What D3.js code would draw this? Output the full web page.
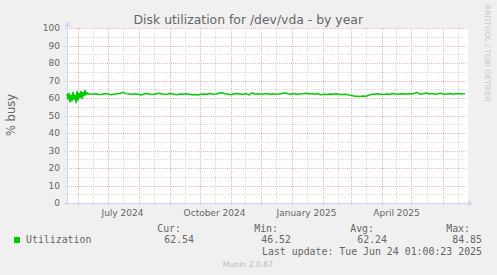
<!DOCTYPE html>
<html>
<head>
<meta charset="utf-8">
<script src="https://cdn.jsdelivr.net/npm/d3@7"></script>
<style>
  html, body { margin: 0; padding: 0; background: #f0f0f0; }
  svg { display: block; }
  text { font-family: "DejaVu Sans", sans-serif; fill: #666; }
  .mono { font-family: "DejaVu Sans Mono", monospace; }
</style>
</head>
<body>
<svg width="497" height="275"></svg>
<script>
// chart data
const title = "Disk utilization for /dev/vda - by year";
const yLabel = "% busy";
const timeRange = [new Date(2024, 4, 21, 12), new Date(2025, 5, 25, 12)];
const yTicks = [0, 10, 20, 30, 40, 50, 60, 70, 80, 90, 100];
const yMinorTicks = [5, 15, 25, 35, 45, 55, 65, 75, 85, 95];
const labelMonths = [new Date(2024, 6, 1), new Date(2024, 9, 1), new Date(2025, 0, 1), new Date(2025, 3, 1)];

// daily samples at the start (noisy part), then one sample every 3 days
const earlyStart = new Date(2024, 4, 21, 12);
const earlyValues = [62.5, 59, 63, 57.5, 62, 58, 63.5, 59, 62, 57, 64, 58.5, 63, 60, 64, 59.5, 63.5, 61, 64.5, 62, 63, 62.3];
const laterStart = new Date(2024, 5, 13, 12);
const laterValues = [
  62.3, 62.1, 62.4, 62.0, 62.2, 62.5, 62.3, 61.9, 62.2, 62.4,
  62.6, 63.2, 62.5, 62.3, 62.1, 62.4, 62.2, 61.8, 62.3, 62.5,
  62.2, 62.0, 62.4, 62.7, 62.3, 62.1, 62.3, 62.6, 62.2, 61.9,
  62.3, 62.1, 62.4, 62.2, 61.8, 62.0, 61.7, 62.1, 62.3, 62.2,
  62.5, 62.1, 62.3, 62.7, 63.0, 62.4, 62.2, 61.9, 62.4, 62.6,
  62.3, 62.0, 62.5, 61.8, 62.9, 62.2, 62.4, 62.1, 62.3, 62.5,
  62.2, 62.4, 62.1, 62.3, 62.6, 62.8, 62.4, 62.2, 62.5, 62.1,
  62.3, 62.4, 62.7, 62.3, 62.5, 62.2, 62.4, 61.9, 62.2, 62.0,
  62.3, 62.1, 62.4, 62.2, 62.0, 62.2, 61.8, 61.5, 61.2, 61.0,
  60.8, 61.1, 61.0, 61.6, 62.2, 62.1, 62.4, 62.2, 62.0, 62.3,
  62.2, 62.5, 62.1, 62.3, 62.4, 62.2, 62.4, 62.3, 62.6, 63.2,
  62.1, 62.4, 62.8, 62.3, 62.5, 62.2, 62.4, 62.7, 62.1, 62.3,
  62.5, 62.2, 62.4, 62.6, 62.3, 62.5
];

const seriesName = "Utilization";
const legendHeads = ["Cur:", "Min:", "Avg:", "Max:"];
const legendValues = ["62.54", "46.52", "62.24", "84.85"];
const lastUpdate = "Last update: Tue Jun 24 01:00:23 2025";
const footer = "Munin 2.0.67";
const sideText = "RRDTOOL / TOBI OETIKER";

const green = "#00cc00";
const axisColor = "#cfd6f8";
const majorGrid = "#f0b6b6";
const minorGrid = "#dadada";

const points = [
  ...earlyValues.map((v, i) => ({ t: d3.timeDay.offset(earlyStart, i), v })),
  ...laterValues.map((v, i) => ({ t: d3.timeDay.offset(laterStart, i * 3), v }))
];

const plotL = 67, plotR = 467, plotT = 28, plotB = 203;
const x = d3.scaleTime().domain(timeRange).range([plotL, plotR]);
const y = d3.scaleLinear().domain([0, 100]).range([plotB, plotT]);

const svg = d3.select("svg");
svg.append("rect").attr("width", 497).attr("height", 275).attr("fill", "#f0f0f0");
svg.append("rect").attr("x", plotL).attr("y", plotT).attr("width", plotR - plotL + 1).attr("height", plotB - plotT + 1).attr("fill", "#fff");

const months = d3.timeMonth.range(timeRange[0], timeRange[1]);
const midMonths = months.map(m => d3.timeDay.offset(m, 15)).filter(d => d < timeRange[1]);
const px = v => Math.round(v) + 0.5;

const grid = svg.append("g").attr("stroke-dasharray", "1,1").attr("shape-rendering", "crispEdges");
// minor grid
grid.selectAll(".hmin").data(yMinorTicks).join("line")
  .attr("x1", plotL - 2).attr("x2", plotR).attr("y1", d => px(y(d))).attr("y2", d => px(y(d)))
  .attr("stroke", minorGrid);
grid.selectAll(".vmin").data(midMonths).join("line")
  .attr("x1", d => px(x(d))).attr("x2", d => px(x(d))).attr("y1", plotT).attr("y2", plotB + 2)
  .attr("stroke", minorGrid);
// major grid
grid.selectAll(".hmaj").data(yTicks.slice(1)).join("line")
  .attr("x1", plotL - 2).attr("x2", plotR).attr("y1", d => px(y(d))).attr("y2", d => px(y(d)))
  .attr("stroke", majorGrid);
grid.selectAll(".vmaj").data(months).join("line")
  .attr("x1", d => px(x(d))).attr("x2", d => px(x(d))).attr("y1", plotT).attr("y2", plotB + 3)
  .attr("stroke", majorGrid);

// y tick labels
svg.append("g").selectAll("text").data(yTicks).join("text")
  .attr("x", 60).attr("y", d => y(d) + 3.4)
  .attr("text-anchor", "end").attr("font-size", "9px")
  .text(d => d);

// x labels, centred half a month after the month start
svg.append("g").selectAll("text").data(labelMonths).join("text")
  .attr("x", d => x(d3.timeDay.offset(d, 15)))
  .attr("y", 215.5)
  .attr("text-anchor", "middle").attr("font-size", "9px")
  .text(d3.timeFormat("%B %Y"));

// axes with arrows
svg.append("line").attr("x1", plotL - 3).attr("x2", plotR + 2).attr("y1", plotB + 0.5).attr("y2", plotB + 0.5).attr("stroke", axisColor);
svg.append("line").attr("x1", plotL + 0.5).attr("x2", plotL + 0.5).attr("y1", plotB + 3).attr("y2", plotT - 2).attr("stroke", axisColor);
svg.append("path").attr("d", `M${plotL - 2.5},${plotT - 1.5}L${plotL + 3.5},${plotT - 1.5}L${plotL + 0.5},${plotT - 7}Z`).attr("fill", axisColor);
svg.append("path").attr("d", `M${plotR + 1},${plotB - 2.5}L${plotR + 1},${plotB + 3.5}L${plotR + 6},${plotB + 0.5}Z`).attr("fill", axisColor);

// data line
svg.append("path").datum(points)
  .attr("fill", "none").attr("stroke", green).attr("stroke-width", 1.5)
  .attr("d", d3.line().x(d => x(d.t)).y(d => y(d.v)));

// title and axis label
svg.append("text").attr("x", 248.3).attr("y", 24).attr("text-anchor", "middle")
  .attr("font-size", "12.4px").text(title);
svg.append("text").attr("transform", "translate(15,115) rotate(-90)").attr("text-anchor", "middle")
  .attr("font-size", "11.5px").text(yLabel);
svg.append("text").attr("transform", "translate(485,5) rotate(90)")
  .attr("font-size", "7.5px").style("fill", "#c8c8c8").text(sideText);

// legend
svg.append("rect").attr("x", 14).attr("y", 237).attr("width", 6).attr("height", 6).attr("fill", green);
svg.append("text").attr("class", "mono").attr("x", 26).attr("y", 243).attr("font-size", "9.9px").text(seriesName);
const headRight = [181, 278, 374, 470];
const valRight = [194, 291, 387, 482];
svg.append("g").selectAll("text").data(legendHeads).join("text")
  .attr("class", "mono").attr("x", (d, i) => headRight[i]).attr("y", 231.5)
  .attr("text-anchor", "end").attr("font-size", "9.9px").text(d => d);
svg.append("g").selectAll("text").data(legendValues).join("text")
  .attr("class", "mono").attr("x", (d, i) => valRight[i]).attr("y", 243)
  .attr("text-anchor", "end").attr("font-size", "9.9px").text(d => d);
svg.append("text").attr("class", "mono").attr("x", 482).attr("y", 255)
  .attr("text-anchor", "end").attr("font-size", "9.9px").text(lastUpdate);
svg.append("text").attr("x", 248).attr("y", 266.5).attr("text-anchor", "middle")
  .attr("font-size", "7.7px").style("fill", "#bbb").text(footer);
</script>
</body>
</html>
